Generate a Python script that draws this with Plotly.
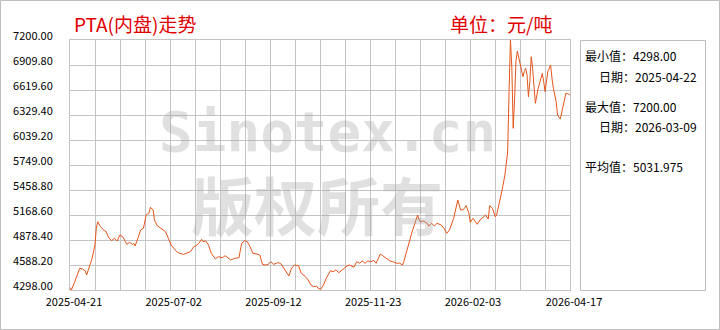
import plotly.graph_objects as go

# ---- data ----
dates = [
    "2025-04-21", "2025-04-22", "2025-04-24", "2025-04-28", "2025-04-30", "2025-05-02", "2025-05-03",
    "2025-05-05", "2025-05-07", "2025-05-09", "2025-05-10", "2025-05-11", "2025-05-13", "2025-05-16",
    "2025-05-17", "2025-05-19", "2025-05-21", "2025-05-23", "2025-05-25", "2025-05-27", "2025-05-29",
    "2025-05-31", "2025-06-01", "2025-06-03", "2025-06-05", "2025-06-06", "2025-06-07", "2025-06-09",
    "2025-06-11", "2025-06-13", "2025-06-15", "2025-06-17", "2025-06-18", "2025-06-20", "2025-06-21",
    "2025-06-23", "2025-06-26", "2025-06-29", "2025-07-01", "2025-07-03", "2025-07-07", "2025-07-09",
    "2025-07-12", "2025-07-14", "2025-07-17", "2025-07-19", "2025-07-21", "2025-07-23", "2025-07-25",
    "2025-07-26", "2025-07-28", "2025-07-30", "2025-08-01", "2025-08-04", "2025-08-06", "2025-08-09",
    "2025-08-11", "2025-08-13", "2025-08-15", "2025-08-18", "2025-08-21", "2025-08-22", "2025-08-23",
    "2025-08-25", "2025-08-27", "2025-08-29", "2025-08-31", "2025-09-03", "2025-09-05", "2025-09-07",
    "2025-09-09", "2025-09-11", "2025-09-13", "2025-09-15", "2025-09-18", "2025-09-20", "2025-09-23",
    "2025-09-26", "2025-09-28", "2025-09-30", "2025-10-03", "2025-10-05", "2025-10-08", "2025-10-10",
    "2025-10-12", "2025-10-14", "2025-10-16", "2025-10-17", "2025-10-19", "2025-10-21", "2025-10-23",
    "2025-10-26", "2025-10-28", "2025-10-30", "2025-11-01", "2025-11-03", "2025-11-05", "2025-11-07",
    "2025-11-09", "2025-11-12", "2025-11-14", "2025-11-16", "2025-11-18", "2025-11-20", "2025-11-22",
    "2025-11-25", "2025-11-26", "2025-11-28", "2025-11-30", "2025-12-01", "2025-12-03", "2025-12-06",
    "2025-12-08", "2025-12-10", "2025-12-13", "2025-12-15", "2025-12-17", "2025-12-18", "2025-12-20",
    "2025-12-22", "2025-12-24", "2025-12-26", "2025-12-28", "2025-12-29", "2025-12-30", "2026-01-01",
    "2026-01-04", "2026-01-05", "2026-01-07", "2026-01-09", "2026-01-11", "2026-01-14", "2026-01-16",
    "2026-01-18", "2026-01-20", "2026-01-23", "2026-01-25", "2026-01-26", "2026-01-28", "2026-01-30",
    "2026-02-01", "2026-02-03", "2026-02-04", "2026-02-06", "2026-02-09", "2026-02-11", "2026-02-13",
    "2026-02-15", "2026-02-17", "2026-02-18", "2026-02-20", "2026-02-22", "2026-02-23", "2026-02-25",
    "2026-02-27", "2026-03-01", "2026-03-02", "2026-03-03", "2026-03-04", "2026-03-05", "2026-03-06",
    "2026-03-07", "2026-03-08", "2026-03-09", "2026-03-10", "2026-03-11", "2026-03-12", "2026-03-14",
    "2026-03-15", "2026-03-16", "2026-03-17", "2026-03-18", "2026-03-19", "2026-03-20", "2026-03-21",
    "2026-03-22", "2026-03-23", "2026-03-25", "2026-03-28", "2026-03-29", "2026-03-30", "2026-04-01",
    "2026-04-03", "2026-04-04", "2026-04-05", "2026-04-07", "2026-04-08", "2026-04-10", "2026-04-11",
    "2026-04-13", "2026-04-14", "2026-04-16", "2026-04-17",
]

prices = [
    4329, 4298, 4376, 4550, 4542, 4519, 4472,
    4568, 4666, 4820, 5014, 5091, 5033, 4983,
    4978, 4905, 4870, 4898, 4867, 4936, 4917,
    4859, 4828, 4852, 4828, 4840, 4809, 4898,
    4994, 5014, 5169, 5188, 5258, 5227, 5111,
    5044, 5014, 4975, 4898, 4820, 4743, 4724,
    4712, 4724, 4743, 4794, 4812, 4840, 4887,
    4859, 4867, 4820, 4724, 4658, 4685, 4673,
    4696, 4673, 4646, 4666, 4673, 4762, 4840,
    4870, 4859, 4801, 4724, 4716, 4704, 4596,
    4588, 4596, 4627, 4596, 4615, 4608, 4530,
    4461, 4550, 4588, 4580, 4492, 4452, 4414,
    4356, 4336, 4344, 4321, 4306, 4356, 4434,
    4522, 4510, 4530, 4499, 4530, 4550, 4577,
    4588, 4562, 4627, 4608, 4635, 4608, 4635,
    4627, 4646, 4608, 4685, 4716, 4693, 4654,
    4635, 4627, 4608, 4610, 4588, 4627, 4743,
    4878, 4975, 5072, 5169, 5111, 5091, 5099,
    5072, 5041, 5072, 5041, 5072, 5053, 5014,
    4956, 4994, 5130, 5250, 5343, 5227, 5230,
    5277, 5192, 5084, 5130, 5061, 5111, 5137,
    5169, 5122, 5277, 5246, 5149, 5169, 5304,
    5459, 5633, 5787, 5900, 6600, 7200, 6880,
    6175, 6520, 6955, 7072, 6990, 6910, 6774,
    6832, 6871, 6794, 6542, 6716, 7006, 6871,
    6639, 6465, 6639, 6813, 6716, 6600, 6832,
    6910, 6755, 6639, 6484, 6329, 6283, 6368,
    6503, 6581, 6573, 6561,
]

y_ticks = [4298.00, 4588.20, 4878.40, 5168.60, 5458.80, 5749.00,
           6039.20, 6329.40, 6619.60, 6909.80, 7200.00]
x_tick_dates = ["2025-04-21", "2025-07-02", "2025-09-12",
                "2025-11-23", "2026-02-03", "2026-04-17"]

title_text = "PTA(内盘)走势"
unit_text = "单位：元/吨"
stat_lines = ["最小值：4298.00", "日期：2025-04-22",
              "最大值：7200.00", "日期：2026-03-09",
              "平均值：5031.975"]
watermark_top = "Sinotex.cn"
watermark_bottom = "版权所有"

# ---- figure ----
W, H = 720, 330
L, R, T, B = 70, 150, 40, 40
PW, PH = W - L - R, H - T - B

def px_x(p):
    return (p - L) / PW

def px_y(p):
    return (H - B - p) / PH

FONT = "Noto Sans CJK SC, sans-serif"
GRID = "#c4c4c4"
WM = "rgba(160,160,160,0.32)"

fig = go.Figure()
fig.add_trace(go.Scatter(
    x=dates, y=prices, mode="lines",
    line=dict(color="#e5541b", width=1),
    hoverinfo="skip", showlegend=False,
))

day_ms = 86400000
fig.update_xaxes(
    type="date",
    range=[x_tick_dates[0], x_tick_dates[-1]],
    tickvals=x_tick_dates,
    ticktext=x_tick_dates,
    showgrid=False,
    minor=dict(tick0=x_tick_dates[0], dtick=361 / 20 * day_ms,
               showgrid=True, gridcolor=GRID, gridwidth=1, ticks=""),
    showline=True, mirror=True, linecolor=GRID, linewidth=1,
    ticks="", zeroline=False,
    ticklabelshift=4, ticklabelstandoff=2,
    tickfont=dict(family=FONT, size=11, color="#000"),
)
fig.update_yaxes(
    range=[y_ticks[0], y_ticks[-1]],
    tickvals=y_ticks,
    ticktext=[f"{v:.2f}" for v in y_ticks],
    showgrid=True, gridcolor=GRID, gridwidth=1,
    showline=True, mirror=True, linecolor=GRID, linewidth=1,
    ticks="", zeroline=False,
    ticklabelshift=-4,
    ticklabelstandoff=14,
    tickfont=dict(family=FONT, size=11, color="#000"),
)

annotations = [
    dict(text=watermark_top, xref="paper", yref="paper",
         x=px_x(327), y=px_y(131), xanchor="center", yanchor="middle",
         showarrow=False,
         font=dict(family="DejaVu Sans Mono, monospace", size=56,
                   color=WM, weight="bold")),
    dict(text=watermark_bottom, xref="paper", yref="paper",
         x=px_x(317), y=px_y(202), xanchor="center", yanchor="middle",
         showarrow=False,
         font=dict(family=FONT, size=63, color=WM, weight="bold")),
    dict(text=title_text, xref="paper", yref="paper",
         x=px_x(72), y=px_y(24), xanchor="left", yanchor="middle",
         showarrow=False, font=dict(family=FONT, size=19, color="#e00000")),
    dict(text=unit_text, xref="paper", yref="paper",
         x=px_x(448), y=px_y(24), xanchor="left", yanchor="middle",
         showarrow=False, font=dict(family=FONT, size=19, color="#e00000")),
]
stat_pos = [(583, 56), (597, 76), (583, 106), (597, 126), (583, 166)]
for txt, (sx, sy) in zip(stat_lines, stat_pos):
    annotations.append(dict(
        text=txt, xref="paper", yref="paper",
        x=px_x(sx), y=px_y(sy), xanchor="left", yanchor="middle",
        showarrow=False, font=dict(family=FONT, size=12, color="#000")))

shapes = [
    dict(type="rect", xref="paper", yref="paper",
         x0=px_x(0.5), x1=px_x(719.5), y0=px_y(329.5), y1=px_y(0.5),
         line=dict(color="#bdbdbd", width=1), layer="below"),
    dict(type="rect", xref="paper", yref="paper",
         x0=px_x(580.5), x1=px_x(705.5), y0=px_y(290.5), y1=px_y(40.5),
         line=dict(color="#bdbdbd", width=1), layer="below"),
]

fig.update_layout(
    width=W, height=H,
    margin=dict(l=L, r=R, t=T, b=B, autoexpand=False),
    paper_bgcolor="#fff", plot_bgcolor="#fff",
    annotations=annotations, shapes=shapes,
    showlegend=False,
)

fig.write_html("out.html", config={"displayModeBar": False})
